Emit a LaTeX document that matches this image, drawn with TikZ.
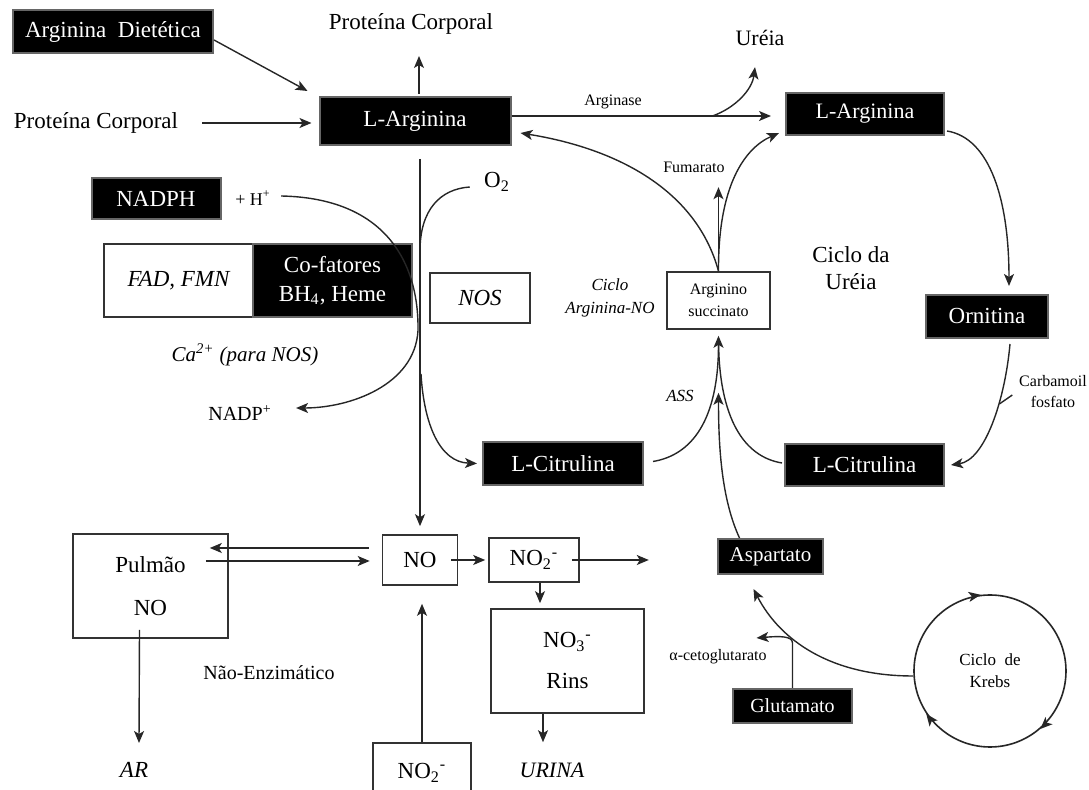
\documentclass[tikz,border=0pt]{standalone}
\usepackage{fontspec}
\setmainfont{Liberation Serif}
\usetikzlibrary{calc,arrows.meta}

\tikzset{
  arr/.style={-{Stealth[length=6pt,width=5pt,inset=1.5pt]}, line width=0.7pt, draw=black!85},
  ln/.style={line width=0.7pt, draw=black!85},
  blackbox/.style={fill=black, draw=black!60, line width=1pt, text=white, inner sep=0pt, align=center,
    font=\fontsize{11.5}{14.5}\selectfont},
  whitebox/.style={fill=white, draw=black!80, line width=0.8pt, inner sep=0pt, align=center,
    font=\fontsize{11.5}{13.5}\selectfont},
  lbl/.style={inner sep=1pt, align=center, font=\fontsize{11.5}{13.5}\selectfont},
  smalllbl/.style={inner sep=1pt, align=center, font=\fontsize{8}{10.5}\selectfont}
}

\begin{document}
\begin{tikzpicture}[x=0.5pt,y=-0.5pt]
  \useasboundingbox (0,0) rectangle (1089,790);
  % sources of L-Arginina
  \node[blackbox, minimum width=100pt, minimum height=21.5pt] (dieta) at (113,32) {Arginina\ \ Dietética};
  \node[lbl] (protop) at (411,24) {Proteína Corporal};
  \node[lbl] (proleft) at (96,123) {Proteína Corporal};
  \node[blackbox, minimum width=95.5pt, minimum height=24pt] (argA) at (415,121) {L-Arginina};
  \node[blackbox, minimum width=79pt, minimum height=21pt, font=\fontsize{11}{13}\selectfont] (argB) at (865,114) {L-Arginina};
  \node[lbl, font=\fontsize{11}{13}\selectfont] (ureia) at (760,38) {Uréia};
  \node[smalllbl] (arginase) at (613,102) {Arginase};
  \node[smalllbl] (fumarato) at (694,167) {Fumarato};
  % NOS side
  \node[lbl] (o2) at (497,182) {O\textsubscript{2}};
  \node[blackbox, minimum width=64.5pt, minimum height=20.5pt] (nadph) at (156,199) {NADPH};
  \node[inner sep=1pt, font=\fontsize{9}{10}\selectfont] (hplus) at (253,198) {+ H\textsuperscript{+}};
  \node[whitebox, minimum width=74.5pt, minimum height=36.5pt, font=\fontsize{11.5}{13.5}\selectfont\itshape] (fad) at (178.5,280.5) {FAD,\ FMN};
  \node[blackbox, minimum width=79.5pt, minimum height=36.5pt] (cof) at (332.5,280.5) {Co-fatores\\BH\textsubscript{4}, Heme};
  \node[whitebox, minimum width=50pt, minimum height=25pt, font=\fontsize{11.5}{13.5}\selectfont\itshape] (nos) at (480,298) {NOS};
  \node[lbl, font=\fontsize{10.5}{12}\selectfont\itshape] (ca) at (245,355) {Ca\textsuperscript{2+} (para NOS)};
  \node[inner sep=1pt, font=\fontsize{10}{12}\selectfont] (nadp) at (240,413) {NADP\textsuperscript{+}};
  % urea cycle
  \node[lbl] (ciclouria) at (851,268) {Ciclo da\\Uréia};
  \node[inner sep=1pt, align=center, font=\fontsize{8.5}{11.5}\selectfont\itshape] (ciclono) at (610,298) {Ciclo\\Arginina-NO};
  \node[whitebox, minimum width=51.5pt, minimum height=28.5pt, font=\fontsize{8}{11}\selectfont] (succ) at (718.5,300.5) {Arginino\\succinato};
  \node[blackbox, minimum width=61pt, minimum height=21.5pt] (orn) at (987,316.5) {Ornitina};
  \node[smalllbl] (carb) at (1053,392) {Carbamoil\\fosfato};
  \node[inner sep=1pt, font=\fontsize{8.5}{10}\selectfont\itshape] (ass) at (680,396) {ASS};
  \node[blackbox, minimum width=80pt, minimum height=21.5pt] (citA) at (563,463.5) {L-Citrulina};
  \node[blackbox, minimum width=79.5pt, minimum height=21pt] (citB) at (864.5,465) {L-Citrulina};
  \node[blackbox, minimum width=52.5pt, minimum height=17.5pt, font=\fontsize{10.5}{12}\selectfont] (asp) at (770.5,556.5) {Aspartato};
  \node[blackbox, minimum width=59.5pt, minimum height=17pt, font=\fontsize{10}{12}\selectfont] (glu) at (792.5,706) {Glutamato};
  \node[smalllbl] (ceto) at (718,657) {α-cetoglutarato};
  \node[circle, draw=black!85, line width=0.8pt, minimum size=76pt, inner sep=1pt, align=center,
    font=\fontsize{8.5}{11}\selectfont] (krebs) at (990,671) {Ciclo\ \ de\\Krebs};
  % NO fate
  \node[whitebox, minimum width=77.5pt, minimum height=52pt] (pulm) at (150.5,586) {Pulmão\\[8pt]NO};
  \node[whitebox, minimum width=37.5pt, minimum height=25pt] (no) at (420,560) {NO};
  \node[whitebox, minimum width=45pt, minimum height=22pt] (no2) at (534,560) {NO\textsubscript{2}\textsuperscript{-}};
  \node[whitebox, minimum width=76.5pt, minimum height=52pt] (rins) at (567.5,661) {NO\textsubscript{3}\textsuperscript{-}\\[7pt]Rins};
  \node[whitebox, minimum width=49pt, minimum height=30pt, anchor=north] (no2b) at (422,742) {NO\textsubscript{2}\textsuperscript{-}};
  \node[lbl, font=\fontsize{11}{13}\selectfont\itshape] (urina) at (552,770) {URINA};
  \node[lbl, font=\fontsize{11.5}{13}\selectfont\itshape] (ar) at (134,770) {AR};
  \node[inner sep=1pt, font=\fontsize{10}{12}\selectfont] (naoenz) at (269,673) {Não-Enzimático};

  % connectors, top
  \draw[arr] ($(dieta.east)+(0,8)$) -- ($(argA.north west)+(-11,-5)$);
  \draw[arr] ($(argA.north)+(4,-2)$) -- ($(argA.north)+(4,-40)$);
  \draw[arr] ($(proleft.east)+(22,0)$) -- ($(argA.west)+(-7,2)$);
  \draw[arr] ($(argA.east)+(0,-5)$) -- ($(argB.west)+(-14,2)$);
  \draw[arr] ($(argA.east)+(201,-5)$) .. controls (735,108) and (752,90) .. ($(ureia.south)+(-5,19)$);
  \draw[arr] (succ.north) -- ($(succ.north)+(0,-84)$);
  \draw[arr] (succ.north) .. controls (698,195) and (625,150) .. ($(argA.east)+(9,12)$);
  \draw[arr] (succ.north) .. controls (718,185) and (745,148) .. ($(argB.south west)+(-6,-3)$);
  % urea cycle
  \draw[arr] ($(argB.east)+(2,17)$) .. controls (990,138) and (1009,200) .. ($(orn.north)+(22,-8)$);
  \draw[arr] ($(orn.south)+(23,5)$) .. controls (1005,400) and (985,460) .. ($(citB.east)+(6,0)$);
  \draw[ln] ($(carb.west)+(-17.5,12)$) -- ($(carb.west)+(-4.5,3)$);
  \draw[arr] ($(citA.east)+(9,-2)$) .. controls (692,455) and (718.5,420) .. ($(succ.south)+(0,6)$);
  \draw[ln] ($(citB.west)+(-2,-2)$) .. controls (745,457) and (718.5,420) .. ($(succ.south)+(0,8)$);
  \draw[arr] ($(asp.north)+(-31,0)$) .. controls (722,500) and (718.5,450) .. ($(succ.south)+(0,63)$);
  \draw[arr] ($(krebs.west)+(0,5)$) .. controls (830,676) and (780,640) .. ($(asp.south)+(-17,14)$);
  \draw[arr] (glu.north) -- ($(glu.north)+(0,-45)$) .. controls (792.5,636) and (780,636) .. ($(glu.north)+(-36,-50)$);
  \draw[arr] (krebs.103) -- (krebs.97);
  \draw[arr] (krebs.-43) -- (krebs.-49);
  \draw[arr] (krebs.220) -- (krebs.214);
  % NOS reaction
  \draw[arr] ($(argA.south)+(5,13)$) -- ($(no.north)+(0,-8)$);
  \draw[ln] ($(o2.west)+(-12,5)$) .. controls (440,189) and (420,210) .. ($(argA.south)+(5,105)$);
  \draw[arr] ($(argA.south)+(6,228)$) .. controls (424,425) and (440,462) .. ($(citA.west)+(-5,0)$);
  \draw[arr] ($(hplus.east)+(8,-2)$) .. controls (385,198) and (419,262) .. ($(cof.east)+(5,50)$)
    .. controls (415,385) and (350,408) .. ($(nadp.east)+(22,-5)$);
  % NO fate
  \draw[arr] ($(no.east)+(-7,0)$) -- ($(no2.west)+(-3,0)$);
  \draw[arr] ($(no2.east)+(-8,0)$) -- ($(no2.east)+(69,0)$);
  \draw[arr] ($(no2.south)+(6,0)$) -- ($(rins.north)+(-27.5,-5)$);
  \draw[arr] ($(rins.south)+(-24.5,0)$) -- ($(urina.north)+(-9,-18)$);
  \draw[arr] (no2b.north) -- ($(no.south)+(2,18)$);
  \draw[arr] ($(no.west)+(-13,-12)$) -- ($(pulm.east)+(-19,-38)$);
  \draw[arr] ($(pulm.east)+(-23,-25)$) -- ($(no.west)+(-12,1)$);
  \draw[arr] ($(pulm.south)+(-11,-9)$) -- ($(ar.north)+(5,-17)$);
\end{tikzpicture}
\end{document}
